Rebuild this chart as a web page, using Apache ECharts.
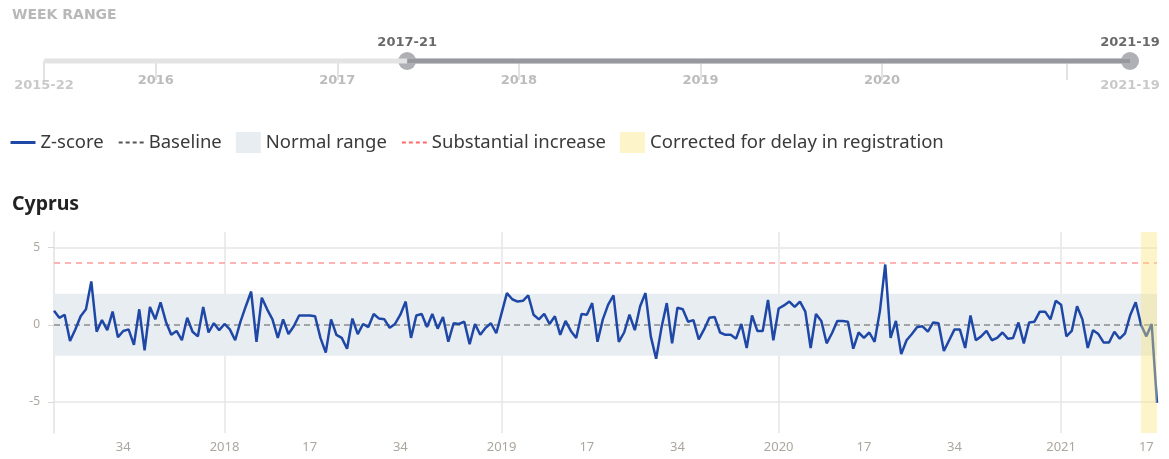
<!DOCTYPE html>
<html><head><meta charset="utf-8">
<script src="https://cdn.jsdelivr.net/npm/echarts@6/dist/echarts.min.js"></script>
<style>html,body{margin:0;padding:0;background:#fff}#c{width:1169px;height:459px}</style>
</head><body><div id="c"></div>
<script>
// ---- data ----
const isoWeeksInYear = {2015:53, 2016:52, 2017:52, 2018:52, 2019:52, 2020:53, 2021:52};
const sliderStart = '2015-22';
const sliderEnd = '2021-19';
const selectedRange = ['2017-21', '2021-19'];
const sliderYearLabels = ['2016', '2017', '2018', '2019', '2020'];
const chartTickWeeks = [1, 17, 34];
const yTicks = [-5, 0, 5];
const baseline = 0;
const normalRange = [-2, 2];
const substantialIncrease = 4;
const correctedRange = ['2021-16', '2021-19'];
const zScore = [
  0.9, 0.45, 0.65, -1.05, -0.3, 0.55, 1.0, 2.8, -0.45, 0.3,
  -0.35, 0.85, -0.8, -0.4, -0.3, -1.3, 1.0, -1.65, 1.15, 0.35,
  1.45, 0.2, -0.65, -0.4, -1.0, 0.45, -0.45, -0.75, 1.15, -0.5,
  0.1, -0.35, 0.05, -0.3, -1.0, 0.2, 1.2, 2.15, -1.1, 1.75,
  1.0, 0.35, -0.85, 0.35, -0.6, -0.1, 0.6, 0.6, 0.6, 0.55,
  -0.85, -1.8, 0.35, -0.65, -0.85, -1.55, 0.4, -0.6, 0.05, -0.15,
  0.7, 0.4, 0.35, -0.2, 0.05, 0.65, 1.5, -0.85, 0.6, 0.7,
  -0.15, 0.7, -0.25, 0.5, -1.1, 0.1, 0.05, 0.2, -1.25, 0.05,
  -0.65, -0.2, 0.1, -0.55, 0.75, 2.05, 1.65, 1.5, 1.55, 1.9,
  0.65, 0.35, 0.7, 0.05, 0.55, -0.65, 0.25, -0.4, -0.85, 0.7,
  0.65, 1.4, -1.1, 0.35, 1.3, 1.9, -1.1, -0.5, 0.65, -0.35,
  1.2, 2.05, -0.75, -2.2, -0.2, 1.4, -1.2, 1.1, 1.0, 0.2,
  0.3, -0.95, -0.3, 0.45, 0.5, -0.5, -0.65, -0.65, -0.9, 0.05,
  -1.5, 0.6, -0.4, -0.4, 1.6, -1.0, 1.05, 1.25, 1.5, 1.15,
  1.5, 0.85, -1.5, 0.7, 0.25, -1.2, -0.55, 0.25, 0.25, 0.2,
  -1.55, -0.5, -0.85, -0.5, -1.1, 0.9, 3.9, -0.85, 0.25, -1.9,
  -1.0, -0.6, -0.15, -0.1, -0.45, 0.15, 0.1, -1.7, -1.0, -0.3,
  -0.3, -1.5, 0.6, -1.0, -0.75, -0.4, -1.0, -0.85, -0.5, -0.9,
  -0.85, 0.15, -1.2, 0.15, 0.2, 0.85, 0.85, 0.35, 1.55, 1.3,
  -0.75, -0.4, 1.2, 0.35, -1.5, -0.35, -0.6, -1.15, -1.15, -0.45,
  -0.9, -0.55, 0.65, 1.45, 0.0, -0.75, 0.05, -5.05
];

// ---- helpers ----
function weeksBetween(start, end) {
  let [y, w] = start.split('-').map(Number);
  const [ey, ew] = end.split('-').map(Number);
  const out = [];
  while (y < ey || (y === ey && w <= ew)) {
    out.push(y + '-' + String(w).padStart(2, '0'));
    w++;
    if (w > isoWeeksInYear[y]) { w = 1; y++; }
  }
  return out;
}
const chartWeeks = weeksBetween(selectedRange[0], selectedRange[1]);
const sliderWeeks = weeksBetween(sliderStart, sliderEnd);
const wk = s => Number(s.split('-')[1]);
const yr = s => s.split('-')[0];

const FONT = '"Noto Sans", sans-serif';
const WIDE = '"DejaVu Sans", sans-serif';
const hideSym = {opacity: 0};
const chart = echarts.init(document.getElementById('c'));
chart.setOption({
  animation: false,
  textStyle: {fontFamily: FONT},
  title: [
    {text: 'WEEK RANGE', left: 12, top: 8, padding: 0,
     textStyle: {fontSize: 14, fontWeight: 'bold', color: '#b8b8b8', fontFamily: WIDE}},
    {text: 'Cyprus', left: 12, top: 194, padding: 0,
     textStyle: {fontSize: 19.5, fontWeight: 'bold', color: '#222', fontFamily: FONT}}
  ],
  legend: {
    left: 9, top: 132, padding: 0, itemWidth: 25, itemHeight: 21, itemGap: 14,
    selectedMode: false,
    textStyle: {fontSize: 18.5, color: '#3a3a3a', fontFamily: FONT},
    data: [
      {name: 'Z-score', itemStyle: hideSym, lineStyle: {color: '#1f48a6', width: 3}},
      {name: 'Baseline', itemStyle: hideSym, lineStyle: {type: [4, 3], color: '#555', width: 2}},
      {name: 'Normal range', icon: 'rect', itemStyle: {color: '#e8edf2'}},
      {name: 'Substantial increase', itemStyle: hideSym, lineStyle: {type: [4, 3], color: '#ff6b6b', width: 2}},
      {name: 'Corrected for delay in registration', icon: 'rect', itemStyle: {color: '#fdf5c9'}}
    ]
  },
  grid: [
    {left: 54, right: 12, top: 232, height: 201},
    {left: 44, right: 39, top: 53, height: 16}
  ],
  xAxis: [
    {
      type: 'category', gridIndex: 0, data: chartWeeks, boundaryGap: false,
      axisLine: {lineStyle: {color: '#e2e2e2'}},
      axisTick: {length: 5, lineStyle: {color: '#d8d8d8'},
        interval: (i, v) => chartTickWeeks.includes(wk(v))},
      axisLabel: {color: '#aca6a0', fontSize: 13, margin: 8,
        interval: (i, v) => chartTickWeeks.includes(wk(v)),
        formatter: v => wk(v) === 1 ? yr(v) : String(wk(v))},
      splitLine: {show: true, lineStyle: {color: '#e6e6e6', width: 1.5},
        interval: (i, v) => wk(v) === 1}
    },
    {
      type: 'category', gridIndex: 1, data: sliderWeeks, boundaryGap: false, position: 'top',
      axisLine: {show: false},
      axisTick: {show: true, inside: true, length: 19, lineStyle: {color: '#e2e2e2', width: 2},
        interval: (i, v) => i === 0 || wk(v) === 1},
      axisLabel: {show: true, inside: true, margin: 21, color: '#bcbcbc', fontSize: 13, fontWeight: 'bold',
        fontFamily: WIDE,
        interval: (i, v) => wk(v) === 1 && sliderYearLabels.includes(yr(v)),
        formatter: v => yr(v)},
      splitLine: {show: false}
    }
  ],
  yAxis: [
    {
      type: 'value', gridIndex: 0, min: -7, max: 6,
      axisLine: {show: true, lineStyle: {color: '#e2e2e2', width: 1.5}},
      axisTick: {show: true, length: 6, customValues: yTicks, lineStyle: {color: '#d8d8d8'}},
      axisLabel: {customValues: yTicks, margin: 14, color: '#aca6a0', fontSize: 12},
      splitLine: {show: true, lineStyle: {color: '#e6e6e6', width: 1.5}}
    },
    {type: 'value', gridIndex: 1, min: -1, max: 1, show: false}
  ],
  series: [
    {
      name: 'Normal range', type: 'line', data: [], color: '#e8edf2', symbol: 'none',
      markArea: {silent: true, z: 1, itemStyle: {color: '#e8edf2'},
        data: [[{yAxis: normalRange[0]}, {yAxis: normalRange[1]}]]}
    },
    {
      name: 'Baseline', type: 'line', data: [], color: '#777', symbol: 'none',
      lineStyle: {color: '#555', type: [4, 3], width: 2},
      markLine: {silent: true, symbol: 'none', z: 2, label: {show: false},
        lineStyle: {color: '#8a8a8a', type: [6, 4], width: 1.5},
        data: [{yAxis: baseline}]}
    },
    {
      name: 'Substantial increase', type: 'line', data: [], color: '#ff8f8f', symbol: 'none',
      lineStyle: {color: '#ff6b6b', type: [4, 3], width: 2},
      markLine: {silent: true, symbol: 'none', z: 2, label: {show: false},
        lineStyle: {color: '#ff9a9a', type: [6, 5], width: 1.5},
        data: [{yAxis: substantialIncrease}]}
    },
    {
      name: 'Z-score', type: 'line', data: zScore, symbol: 'none', z: 3,
      color: '#1f48a6', lineStyle: {color: '#1f48a6', width: 2.5}
    },
    {
      name: 'Corrected for delay in registration', type: 'line', data: [], color: '#fdf5c9', symbol: 'none',
      markArea: {silent: true, z: 10, itemStyle: {color: 'rgba(250,230,120,0.4)'},
        data: [[{xAxis: correctedRange[0]}, {xAxis: correctedRange[1]}]]}
    },
    // ---- week range slider ----
    {
      type: 'line', xAxisIndex: 1, yAxisIndex: 1, symbol: 'none', silent: true,
      lineStyle: {color: '#e3e3e3', width: 5},
      data: [[sliderStart, 0], [sliderEnd, 0]]
    },
    {
      type: 'line', xAxisIndex: 1, yAxisIndex: 1, symbol: 'none', silent: true,
      lineStyle: {color: '#96989e', width: 5},
      data: [[selectedRange[0], 0], [selectedRange[1], 0]]
    },
    {
      type: 'scatter', xAxisIndex: 1, yAxisIndex: 1, symbolSize: 18, silent: true,
      itemStyle: {color: '#9a9ca4'},
      label: {show: true, position: 'top', distance: 3, color: '#444', fontSize: 13, fontWeight: 'bold',
        fontFamily: WIDE, formatter: p => p.value[0]},
      data: [[selectedRange[0], 0], [selectedRange[1], 0]]
    },
    {
      type: 'scatter', xAxisIndex: 1, yAxisIndex: 1, symbolSize: 1, silent: true,
      itemStyle: {color: 'rgba(0,0,0,0)'},
      label: {show: true, position: 'bottom', distance: 18, color: '#bcbcbc', fontSize: 13, fontWeight: 'bold',
        fontFamily: WIDE, formatter: p => p.value[0]},
      data: [[sliderStart, 0], [sliderEnd, 0]]
    }
  ]
});
</script></body></html>
